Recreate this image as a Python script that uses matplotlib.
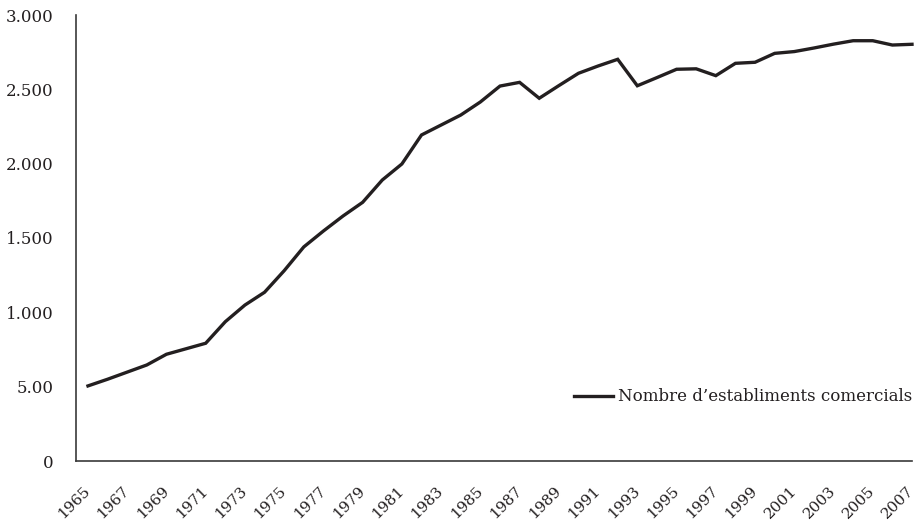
import matplotlib
matplotlib.use("Agg")
import matplotlib.pyplot as plt

years = list(range(1965, 2008))
establiments = [
    505, 550, 598, 646, 718, 755, 792, 937, 1049, 1135,
    1280, 1440, 1547, 1648, 1740, 1890, 1998, 2193, 2260, 2327,
    2415, 2522, 2547, 2440, 2525, 2608, 2657, 2702, 2524, 2579,
    2635, 2638, 2592, 2675, 2682, 2742, 2754, 2778, 2804, 2827,
    2827, 2798, 2803,
]
series_label = "Nombre d\u2019establiments comercials"
ytick_values = [0, 500, 1000, 1500, 2000, 2500, 3000]
ytick_labels = ["0", "5.00", "1.000", "1.500", "2.000", "2.500", "3.000"]
xtick_years = list(range(1965, 2008, 2))

ink = "#231f20"
plt.rcParams["font.family"] = ["DejaVu Serif"]
plt.rcParams["font.size"] = 12

fig = plt.figure(figsize=(9.18, 5.2), dpi=100)
ax = fig.add_axes([76 / 918, (520 - 461) / 520, (912 - 76) / 918, (461 - 15) / 520])

ax.plot(years, establiments, color=ink, lw=2.4, solid_joinstyle="miter",
        label=series_label, clip_on=False)

ax.set_xlim(1964.39, 2007)
ax.set_ylim(0, 3000)
ax.set_yticks(ytick_values)
ax.set_yticklabels(ytick_labels)
ax.set_xticks(xtick_years)
ax.set_xticklabels([str(y) for y in xtick_years], rotation=45, ha="right",
                   va="center", rotation_mode="anchor", fontsize=11)

ax.tick_params(axis="y", length=0, pad=16, colors=ink, labelsize=12)
ax.tick_params(axis="x", length=0, pad=20, colors=ink)

for s in ["top", "right"]:
    ax.spines[s].set_visible(False)
for s in ["left", "bottom"]:
    ax.spines[s].set_color("#3a3a3a")
    ax.spines[s].set_linewidth(1.2)

leg = ax.legend(loc="center right", bbox_to_anchor=(1.0, 0.1435), frameon=False,
                borderaxespad=0, borderpad=0, handlelength=2.3, handletextpad=0.3,
                fontsize=12)
for t in leg.get_texts():
    t.set_color(ink)

fig.savefig("out.png", dpi=100)
